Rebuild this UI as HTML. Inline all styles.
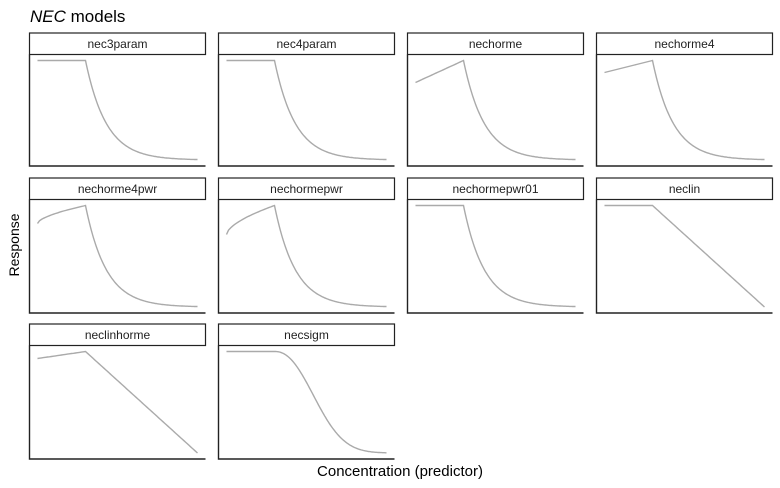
<!DOCTYPE html>
<html><head><meta charset="utf-8"><style>
body{margin:0;background:#fff;}
svg{display:block;font-family:"Liberation Sans",sans-serif;}
</style></head><body>
<svg id="s" width="780" height="488" viewBox="0 0 780 488" xmlns="http://www.w3.org/2000/svg">
<text x="30" y="22" font-size="17"><tspan font-style="italic">NEC</tspan> models</text>
<text x="400" y="476" font-size="15" text-anchor="middle">Concentration (predictor)</text>
<text transform="translate(19,245) rotate(-90)" font-size="14" text-anchor="middle">Response</text>
<g id="g"></g>
</svg>
<script>
var cols=[29.5,218.5,407.5,596.5], rows=[[33,166],[178,313],[324,459]];
var panels=[
["nec3param","exp",0],["nec4param","exp",0],["nechorme","exp",22],["nechorme4","exp",12],
["nechorme4pwr","exp",18,1],["nechormepwr","exp",29,1],["nechormepwr01","exp",0],["neclin","lin",0],
["neclinhorme","lin",7],["necsigm","sig",0]];
var out="";
panels.forEach(function(p,i){
 var x=cols[i%4], r=rows[Math.floor(i/4)], st=r[0], bot=r[1], top=st+21.5;
 var peak=top+6, base=bot-6, W=176;
 out+='<rect x="'+x+'" y="'+st+'" width="'+W+'" height="'+(top-st)+'" fill="#fff" stroke="#222" stroke-width="1.2"/>';
 out+='<text x="'+(x+W/2)+'" y="'+(st+15)+'" font-size="12" text-anchor="middle" fill="#222">'+p[0]+'</text>';
 out+='<path d="M'+x+' '+top+'V'+bot+'H'+(x+W)+'" fill="none" stroke="#222" stroke-width="1.4"/>';
 var pts=[], x0=x+8, xn=x+56, start=peak+p[2];
 for(var t=0;t<=48;t+=2){var f=t/48;var y=p[3]?start-(start-peak)*Math.pow(f,0.6):start-(start-peak)*f;pts.push([x0+t,y]);}
 for(var t=1;t<=112;t++){var y;
  if(p[1]=="exp") y=peak+(base-peak)*(1-Math.exp(-0.048*t));
  else if(p[1]=="lin") y=peak+(base-peak)*t/112;
  else {var s=1-Math.exp(-Math.pow(t/50,2.27));y=peak+(base-peak)*s;}
  pts.push([xn+t,y]);}
 out+='<polyline points="'+pts.map(function(q){return q[0].toFixed(1)+','+q[1].toFixed(1)}).join(' ')+'" fill="none" stroke="#aaa" stroke-width="1.4"/>';
});
document.getElementById("g").innerHTML=out;
</script>
</body></html>
